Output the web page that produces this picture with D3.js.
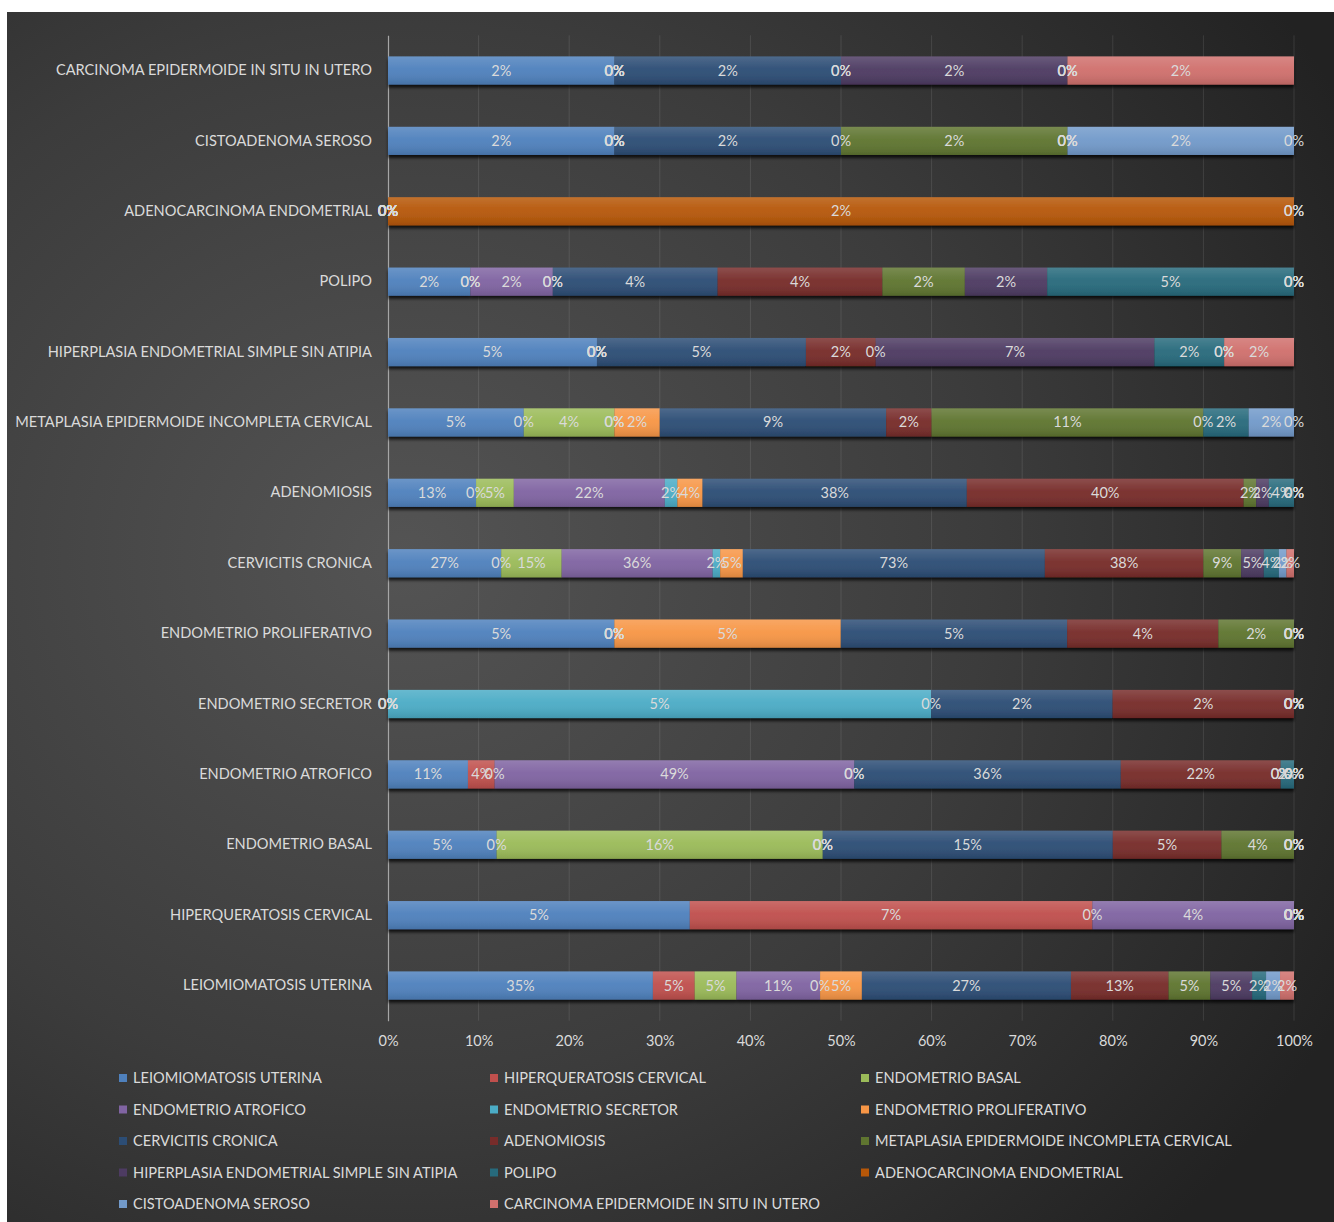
<!DOCTYPE html>
<html>
<head>
<meta charset="utf-8">
<script src="https://cdn.jsdelivr.net/npm/d3@7"></script>
<style>
    body { margin: 0; background: #ffffff; }
    text { font-family: Lato, 'Open Sans', sans-serif; }
</style>
</head>
<body>
<script>
// categories, bottom to top (same order as the legend)
const categories = [
    'LEIOMIOMATOSIS UTERINA', 'HIPERQUERATOSIS CERVICAL', 'ENDOMETRIO BASAL',
    'ENDOMETRIO ATROFICO', 'ENDOMETRIO SECRETOR', 'ENDOMETRIO PROLIFERATIVO',
    'CERVICITIS CRONICA', 'ADENOMIOSIS', 'METAPLASIA EPIDERMOIDE INCOMPLETA CERVICAL',
    'HIPERPLASIA ENDOMETRIAL SIMPLE SIN ATIPIA', 'POLIPO', 'ADENOCARCINOMA ENDOMETRIAL',
    'CISTOADENOMA SEROSO', 'CARCINOMA EPIDERMOIDE IN SITU IN UTERO'
]
const series_names = categories

// series values (%), one per category; null = empty cell (no label)
const leiomiomatosis_uterina = [34.55, 5.45, 5.45, 10.91, 0, 5.45, 27.27, 12.73, 5.45, 5.45, 1.82, 0, 1.82, 1.82]
const hiperqueratosis_cervical = [5.45, 7.27, 0, 3.64, 0, 0, 0, 0, 0, 0, 0, 0, 0, 0]
const endometrio_basal = [5.45, 0, 16.36, 0, 0, 0, 14.55, 5.45, 3.64, 0, 0, 0, 0, 0]
const endometrio_atrofico = [10.91, 3.64, 0, 49.09, 0, 0, 36.36, 21.82, 0, 0, 1.82, 0, 0, 0]
const endometrio_secretor = [0, 0, 0, 0, 5.45, 0, 1.82, 1.82, 0, 0, 0, 0, 0, 0]
const endometrio_proliferativo = [5.45, 0, 0, 0, 0, 5.45, 5.45, 3.64, 1.82, 0, 0, 0, 0, 0]
const cervicitis_cronica = [27.27, 0, 14.55, 36.36, 1.82, 5.45, 72.73, 38.18, 9.09, 5.45, 3.64, 0, 1.82, 1.82]
const adenomiosis = [12.73, 0, 5.45, 21.82, 1.82, 3.64, 38.18, 40.00, 1.82, 1.82, 3.64, 0, 0, 0]
const metaplasia = [5.45, 0, 3.64, 0, 0, 1.82, 9.09, 1.82, 10.91, 0, 1.82, 0, 1.82, 0]
const hiperplasia = [5.45, 0, 0, 0, 0, 0, 5.45, 1.82, 0, 7.27, 1.82, 0, 0, 1.82]
const polipo = [1.82, 0, 0, 1.82, 0, 0, 3.64, 3.64, 1.82, 1.82, 5.45, 0, 0, 0]
const adenocarcinoma = [null, 0, 0, 0, 0, 0, null, 0, null, 0, 0, 1.82, 0, 0]
const cistoadenoma = [1.82, 0, 0, 0, 0, 0, 1.82, 0, 1.82, 0, 0, 0, 1.82, 0]
const carcinoma = [1.82, 0, 0, 0, 0, 0, 1.82, 0, 0, 1.82, 0, 0, 0, 1.82]

const series_values = [
    leiomiomatosis_uterina, hiperqueratosis_cervical, endometrio_basal, endometrio_atrofico,
    endometrio_secretor, endometrio_proliferativo, cervicitis_cronica, adenomiosis,
    metaplasia, hiperplasia, polipo, adenocarcinoma, cistoadenoma, carcinoma
]
const series_colors = [
    '#4F81BD', '#C0504D', '#9BBB59', '#8064A2', '#4BACC6', '#F79646', '#2C4D75',
    '#772C2A', '#5F7530', '#4D3B62', '#276A7C', '#B65708', '#729ACA', '#D0706D'
]
const x_ticks = [0, 0.1, 0.2, 0.3, 0.4, 0.5, 0.6, 0.7, 0.8, 0.9, 1]

// layout
const width = 1334, height = 1222
const frame = {x: 7, y: 12}
const plot = {left: 388, right: 1294, top: 35.3, bottom: 1020.7}
const text_color = '#dadada'

// table for the stack
const table = categories.map((c, i) => {
    const row = {category: c}
    series_names.forEach((s, j) => row[s] = series_values[j][i])
    return row
})

const stack = d3.stack()
    .keys(series_names)
    .value((d, key) => d[key] == null ? 0 : d[key])
    .offset(d3.stackOffsetExpand)
const stacked = stack(table)

const x = d3.scaleLinear().domain([0, 1]).range([plot.left, plot.right])
const y = d3.scaleBand()
    .domain(categories.slice().reverse())
    .range([plot.top, plot.bottom])
    .paddingInner(0.6)
    .paddingOuter(0.3)

const svg = d3.select('body').append('svg')
    .attr('width', width)
    .attr('height', height)

const defs = svg.append('defs')
const bg = defs.append('radialGradient')
    .attr('id', 'bg')
    .attr('cx', '0.3').attr('cy', '0.45').attr('r', '0.8')
bg.append('stop').attr('offset', '0').attr('stop-color', '#545454')
bg.append('stop').attr('offset', '0.55').attr('stop-color', '#3c3c3c')
bg.append('stop').attr('offset', '1').attr('stop-color', '#222222')

const gloss = defs.append('linearGradient')
    .attr('id', 'gloss')
    .attr('x1', 0).attr('y1', 0).attr('x2', 0).attr('y2', 1)
gloss.append('stop').attr('offset', '0').attr('stop-color', '#ffffff').attr('stop-opacity', 0.16)
gloss.append('stop').attr('offset', '0.45').attr('stop-color', '#ffffff').attr('stop-opacity', 0.04)
gloss.append('stop').attr('offset', '1').attr('stop-color', '#000000').attr('stop-opacity', 0.12)

const shadow = defs.append('filter').attr('id', 'shadow')
    .attr('x', '-1%').attr('y', '-30%').attr('width', '102%').attr('height', '170%')
shadow.append('feDropShadow')
    .attr('dx', 0).attr('dy', 3).attr('stdDeviation', 1.8)
    .attr('flood-color', '#000000').attr('flood-opacity', 0.75)

// background
svg.append('rect')
    .attr('x', frame.x).attr('y', frame.y)
    .attr('width', width - frame.x).attr('height', height - frame.y)
    .attr('fill', 'url(#bg)')

// grid
svg.append('g')
    .selectAll('line')
    .data(x_ticks.slice(1))
    .enter()
    .append('line')
    .attr('x1', d => x(d)).attr('x2', d => x(d))
    .attr('y1', plot.top).attr('y2', plot.bottom)
    .attr('stroke', '#ffffff').attr('stroke-opacity', 0.1)

// x axis labels
const x_axis = svg.append('g')
    .attr('transform', `translate(0,${plot.bottom + 12})`)
    .call(d3.axisBottom(x).tickValues(x_ticks).tickFormat(d3.format('.0%')).tickSize(0))
x_axis.select('.domain').remove()
x_axis.selectAll('text')
    .attr('fill', text_color)
    .style('font-size', '14.5px')

// y axis
const y_axis = svg.append('g')
    .attr('transform', `translate(${plot.left},0)`)
    .call(d3.axisLeft(y).tickSize(0).tickPadding(16))
y_axis.select('.domain').attr('stroke', '#a6a6a6').attr('stroke-width', 1.2)
y_axis.selectAll('text')
    .attr('fill', text_color)
    .style('font-size', '14.6px')

// bars
const rows = svg.append('g')
    .selectAll('g')
    .data(categories)
    .enter()
    .append('g')
    .attr('filter', 'url(#shadow)')

rows.each(function (cat, ci) {
    const g = d3.select(this)
    stacked.forEach((layer, si) => {
        const d = layer[ci]
        g.append('rect')
            .attr('x', x(d[0]))
            .attr('y', y(cat))
            .attr('width', Math.max(0, x(d[1]) - x(d[0])))
            .attr('height', y.bandwidth())
            .attr('fill', series_colors[si])
    })
    g.append('rect')
        .attr('x', x(0))
        .attr('y', y(cat))
        .attr('width', x(1) - x(0))
        .attr('height', y.bandwidth())
        .attr('fill', 'url(#gloss)')
})

// data labels
const labels = []
stacked.forEach((layer, si) => {
    layer.forEach((d, ci) => {
        const v = series_values[si][ci]
        if (v == null) return
        labels.push({cx: x((d[0] + d[1]) / 2), cat: categories[ci], v: v})
    })
})
svg.append('g')
    .selectAll('text')
    .data(labels)
    .enter()
    .append('text')
    .attr('x', d => d.cx)
    .attr('y', d => y(d.cat) + y.bandwidth() / 2)
    .attr('dy', '0.35em')
    .attr('text-anchor', 'middle')
    .attr('fill', text_color)
    .style('font-size', '14.5px')
    .text(d => Math.round(d.v) + '%')

// legend
const legend_cols = [119, 490, 861]
const legend_top = 1078
const legend_step = 31.5
const legend = svg.append('g')
    .selectAll('g')
    .data(series_names)
    .enter()
    .append('g')
    .attr('transform', (d, i) => `translate(${legend_cols[i % 3]},${legend_top + Math.floor(i / 3) * legend_step})`)
legend.append('rect')
    .attr('x', 0).attr('y', -4)
    .attr('width', 8).attr('height', 8)
    .attr('fill', (d, i) => series_colors[i])
legend.append('text')
    .attr('x', 14)
    .attr('dy', '0.35em')
    .attr('fill', text_color)
    .style('font-size', '14.6px')
    .text(d => d)
</script>
</body>
</html>
